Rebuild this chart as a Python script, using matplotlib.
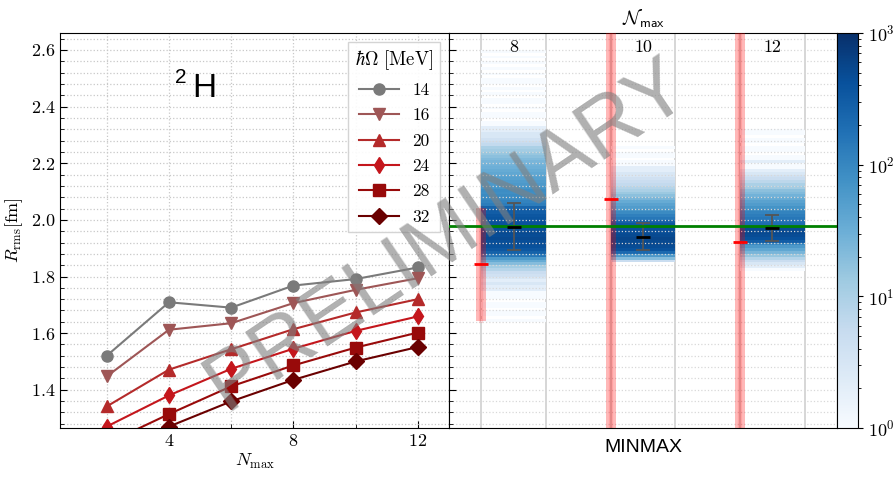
import numpy as np
import matplotlib
import matplotlib.pyplot as plt
from matplotlib.colors import LogNorm
from matplotlib.ticker import MultipleLocator

plt.rcParams['font.family'] = ['cmr10', 'DejaVu Serif']
plt.rcParams['mathtext.fontset'] = 'cm'
plt.rcParams['axes.formatter.use_mathtext'] = True

# left panel: R_rms vs Nmax for several hbar*Omega
nmax = [2, 4, 6, 8, 10, 12]
hw_labels = ['14', '16', '20', '24', '28', '32']
r14 = [1.520, 1.709, 1.690, 1.768, 1.791, 1.832]
r16 = [1.447, 1.612, 1.635, 1.706, 1.753, 1.794]
r20 = [1.341, 1.471, 1.543, 1.614, 1.673, 1.720]
r24 = [1.270, 1.380, 1.474, 1.545, 1.608, 1.659]
r28 = [1.210, 1.314, 1.412, 1.486, 1.549, 1.602]
r32 = [1.160, 1.270, 1.359, 1.435, 1.500, 1.551]
curves = [r14, r16, r20, r24, r28, r32]
colors = ['#7a7a7a', '#9e5656', '#b42a2a', '#c4161c', '#980a0a', '#6a0000']
markers = ['o', 'v', '^', 'd', 's', 'D']

# right panel: MINMAX histograms per Nmax (bins of 0.01 starting at 1.64)
groups = ['8', '10', '12']
bin_lo = 1.64
bin_w = 0.01
counts8 = [1, 0, 1, 1, 0, 1, 1, 0, 1, 1,
           1, 2, 2, 3, 2, 3, 4, 5, 8, 12,
           20, 35, 60, 150, 260, 350, 420, 480, 450, 520,
           480, 500, 450, 480, 420, 400, 380, 350, 300, 320,
           250, 130, 110, 95, 90, 80, 85, 70, 60, 55,
           50, 45, 40, 35, 30, 28, 25, 22, 18, 15,
           12, 10, 6, 5, 4, 3, 3, 2, 2, 1,
           1, 0, 1, 1, 0, 1, 0, 1, 1, 0,
           1, 0, 1, 0, 1, 1, 0, 1, 0, 1,
           0, 1, 0, 1, 0, 1]
counts10 = [0] * 21 + [5, 20, 60,
            220, 400, 480, 550, 520, 560, 500, 480, 450, 420, 350, 280,
            150, 120, 90, 70, 55, 45, 35,
            25, 18, 14, 10, 8, 6,
            5, 4, 3, 3, 2, 2,
            1, 1, 0, 1, 1, 0, 1]
counts12 = [0] * 18 + [1, 2, 3, 5, 8,
            15, 25, 40, 60, 100,
            300, 420, 480, 520, 500, 450,
            200, 180, 150, 130, 110, 90,
            70, 55, 45, 35, 28, 22, 18,
            12, 10, 7, 5, 4, 3,
            2, 1, 1, 2, 1, 1, 0, 1, 1, 0, 1, 1, 0, 1, 1]
hist_counts = [counts8, counts10, counts12]
err_mid = [1.976, 1.940, 1.971]
err_lo = [0.082, 0.048, 0.046]
err_hi = [0.085, 0.050, 0.047]
red_val = [1.845, 2.072, 1.922]
red_band = [(1.644, 2.042), (1.0, 3.0), (1.0, 3.0)]
green_val = 1.979

fig = plt.figure(figsize=(8.93, 4.79), dpi=100)
ax1 = fig.add_axes([0.0672, 0.1065, 0.4356, 0.8246])
ax2 = fig.add_axes([0.5028, 0.1065, 0.4345, 0.8246], sharey=ax1)
cax = fig.add_axes([0.9373, 0.1065, 0.0235, 0.8246])

for r, c, m, lab in zip(curves, colors, markers, hw_labels):
    ax1.plot(nmax, r, color=c, marker=m, ms=8, lw=1.5, label=lab)

ax1.set_xlim(0.5, 13)
ax1.set_ylim(1.265, 2.66)
ax1.xaxis.set_major_locator(MultipleLocator(4))
ax1.xaxis.set_minor_locator(MultipleLocator(2))
ax1.yaxis.set_major_locator(MultipleLocator(0.2))
ax1.yaxis.set_minor_locator(MultipleLocator(0.04))
ax1.grid(True, which='both', ls=':', color='#c8c8c8', lw=0.9)
ax1.tick_params(which='both', direction='in', labelsize=13)
ax1.tick_params(which='major', length=5)
ax1.tick_params(which='minor', length=3)
ax1.set_xlabel(r'$N_{\mathrm{max}}$', fontsize=13, labelpad=2)
ax1.set_ylabel(r'$R_{\mathrm{rms}}[\mathrm{fm}]$', fontsize=13, labelpad=4)
leg = ax1.legend(title=r'$\hbar\Omega\ [\mathrm{MeV}]$', loc='upper right', fontsize=12.5,
                 title_fontsize=13.5, fancybox=False, framealpha=0.9, edgecolor='#d0d0d0',
                 handlelength=2.3, labelspacing=0.58, borderaxespad=0.5)
ax1.text(0.37, 0.86, 'H', transform=ax1.transAxes, fontsize=24,
         family='Liberation Sans', ha='center', va='center')
ax1.annotate('2', xy=(0.37, 0.86), xycoords='axes fraction', xytext=(-17, 8),
             textcoords='offset points', fontsize=15, family='Liberation Sans',
             ha='center', va='center')

norm = LogNorm(vmin=1, vmax=1000)
mesh = None
for i, cnt in enumerate(hist_counts):
    x0 = 0.5 + 2 * i
    edges = bin_lo + bin_w * np.arange(len(cnt) + 1)
    C = np.ma.masked_equal(np.array(cnt, dtype=float), 0).reshape(-1, 1)
    mesh = ax2.pcolormesh([x0, x0 + 1], edges, C, cmap='Blues', norm=norm,
                          shading='flat', zorder=1)
    ax2.axvline(x0, color='#d0d0d0', lw=1.2, zorder=0.5)
    ax2.axvline(x0 + 1, color='#d0d0d0', lw=1.2, zorder=0.5)
    lo, hi = red_band[i]
    ax2.fill_between([x0 - 0.075, x0 + 0.075], lo, hi, color='red', alpha=0.28,
                     lw=0, zorder=3)
    ax2.plot([x0, x0], [lo, hi], color='red', alpha=0.12, lw=3, zorder=3)
    ax2.plot([x0], [red_val[i]], marker='_', color='red', ms=10, mew=2, zorder=4)
    ax2.errorbar([x0 + 0.5], [err_mid[i]], yerr=[[err_lo[i]], [err_hi[i]]],
                 color='#555555', lw=1.3, capsize=5, capthick=1.3, zorder=4)
    ax2.plot([x0 + 0.5], [err_mid[i]], marker='_', color='black', ms=10, mew=2, zorder=5)
    ax2.text(x0 + 0.5, 0.963, groups[i], transform=ax2.get_xaxis_transform(),
             ha='center', va='center', fontsize=13)

ax2.axhline(green_val, color='green', lw=2, zorder=4)
ax2.set_xlim(0, 6)
ax2.set_xticks([])
ax2.grid(True, which='both', axis='y', ls=':', color='#d8d8d8', lw=0.9)
ax2.tick_params(which='both', direction='in', labelleft=False)
ax2.tick_params(which='major', length=5)
ax2.tick_params(which='minor', length=3)
ax2.set_xlabel('MINMAX', fontsize=14, family='Liberation Sans', labelpad=8)
ax2.set_title(r'$\mathcal{N}_{\mathsf{max}}$', fontsize=14, pad=6)

cb = fig.colorbar(mesh, cax=cax)
cb.ax.tick_params(labelsize=13)

fig.text(0.50, 0.51, 'PRELIMINARY', fontsize=60, family='Liberation Sans',
         color='grey', alpha=0.62, rotation=34, ha='center', va='center', zorder=10)

fig.savefig('out.png', dpi=100)
